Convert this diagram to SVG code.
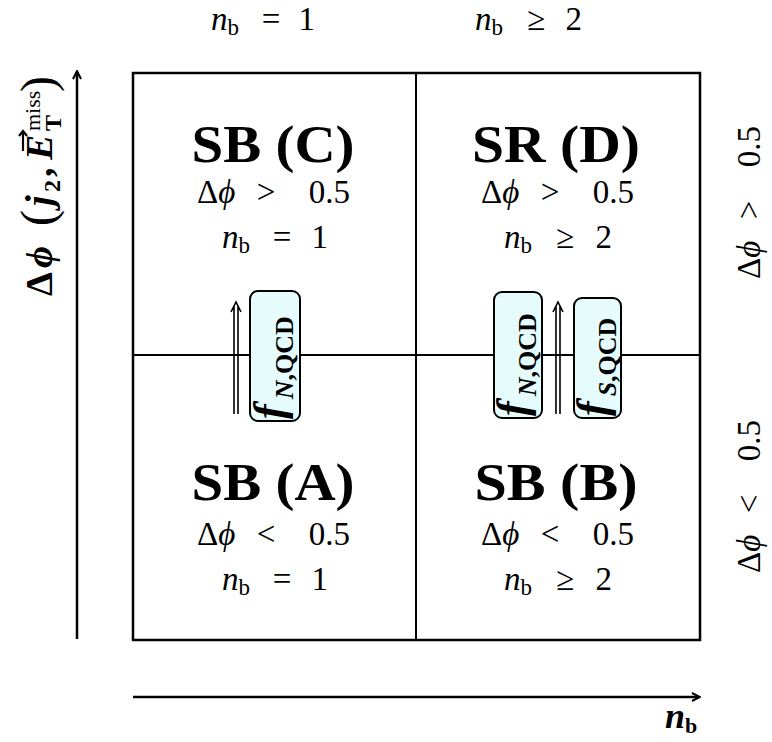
<svg xmlns="http://www.w3.org/2000/svg" width="772" height="742" viewBox="0 0 772 742">
<style>
text{font-family:"Liberation Serif","DejaVu Serif",serif;fill:#000}
.title{font-size:52px;font-weight:bold;text-anchor:middle}
.c{font-size:33px}
.m{text-anchor:middle}
.e{text-anchor:end}
.it{font-style:italic}
.sub{font-size:23px}
.grid{fill:none;stroke:#000;stroke-width:2.5}
.div{stroke:#000;stroke-width:2}
.fbox{fill:#e6fcfc;stroke:#000;stroke-width:2}
.flab{font-size:44px;font-weight:bold;font-style:italic}
.fsub{font-size:26px;font-weight:bold}
.dbl{fill:none;stroke:#000;stroke-width:1.6}
.axis{stroke:#000;stroke-width:2.5;fill:none}
.ax{font-size:38px;font-weight:bold}
</style>
<defs>
<marker id="ah" markerWidth="10" markerHeight="10" refX="8" refY="5" orient="auto" markerUnits="userSpaceOnUse">
<path d="M1,1 L9,5 L1,9" fill="none" stroke="#000" stroke-width="2"/>
</marker>
</defs>

<g id="axes">
<line class="axis" x1="77" y1="639" x2="77" y2="72" marker-end="url(#ah)"/>
<line class="axis" x1="133" y1="697" x2="699" y2="697" marker-end="url(#ah)"/>
<g transform="translate(52,296) rotate(-90)">
<text class="ax" x="0" y="0">Δ</text>
<text class="ax it" x="28" y="0">ϕ</text>
<text x="70" y="2" font-size="48">(</text>
<text class="ax it" x="90" y="0">j</text>
<text x="104" y="8" font-size="24" font-weight="bold">2</text>
<text class="ax" x="119" y="0">,</text>
<text class="ax it" x="136" y="0">E</text>
<path d="M145,-29 H165 M160,-33 L165,-29 L160,-25" fill="none" stroke="#000" stroke-width="2.2"/>
<text x="165" y="9" font-size="24" font-weight="bold">T</text>
<text x="165" y="-12" font-size="22">miss</text>
<text x="204" y="2" font-size="48">)</text>
</g>
<text x="665" y="728" font-size="36" font-weight="bold" font-style="italic">n<tspan font-size="22" font-style="normal" dy="5">b</tspan></text>
</g>

<g id="col-labels">
<g transform="translate(211,30)"><text class="c it" x="0" y="0">n<tspan class="sub" font-style="normal" dy="5">b</tspan></text><text class="c m" x="60" y="0">=</text><text class="c e" x="104" y="0">1</text></g>
<g transform="translate(475,30)"><text class="c it" x="0" y="0">n<tspan class="sub" font-style="normal" dy="5">b</tspan></text><text class="c m" x="61" y="0">≥</text><text class="c e" x="107" y="0">2</text></g>
</g>

<g id="row-labels">
<g transform="translate(760,203) rotate(-90)"><text class="c" x="-76" y="0">Δ<tspan class="it">ϕ</tspan></text><text class="c m" x="-7" y="0">&gt;</text><text class="c e" x="77" y="0">0.5</text></g>
<g transform="translate(760,497) rotate(-90)"><text class="c" x="-76" y="0">Δ<tspan class="it">ϕ</tspan></text><text class="c m" x="-7" y="0">&lt;</text><text class="c e" x="77" y="0">0.5</text></g>
</g>

<g id="grid">
<rect class="grid" x="133" y="73" width="567" height="567"/>
<line class="div" x1="416" y1="73" x2="416" y2="640"/>
<line class="div" x1="133" y1="355" x2="700" y2="355"/>
</g>

<g id="node-C">
<text class="title" x="273" y="162" textLength="163" lengthAdjust="spacingAndGlyphs">SB (C)</text>
<g transform="translate(273,203)"><text class="c" x="-76" y="0">Δ<tspan class="it">ϕ</tspan></text><text class="c m" x="-7" y="0">&gt;</text><text class="c e" x="77" y="0">0.5</text></g>
<g transform="translate(222,248)"><text class="c it" x="0" y="0">n<tspan class="sub" font-style="normal" dy="5">b</tspan></text><text class="c m" x="60" y="0">=</text><text class="c e" x="106" y="0">1</text></g>
</g>
<g id="node-D">
<text class="title" x="556" y="162" textLength="168" lengthAdjust="spacingAndGlyphs">SR (D)</text>
<g transform="translate(557,203)"><text class="c" x="-76" y="0">Δ<tspan class="it">ϕ</tspan></text><text class="c m" x="-7" y="0">&gt;</text><text class="c e" x="77" y="0">0.5</text></g>
<g transform="translate(504,248)"><text class="c it" x="0" y="0">n<tspan class="sub" font-style="normal" dy="5">b</tspan></text><text class="c m" x="61" y="0">≥</text><text class="c e" x="108" y="0">2</text></g>
</g>
<g id="node-A">
<text class="title" x="273" y="500" textLength="163" lengthAdjust="spacingAndGlyphs">SB (A)</text>
<g transform="translate(273,545)"><text class="c" x="-76" y="0">Δ<tspan class="it">ϕ</tspan></text><text class="c m" x="-7" y="0">&lt;</text><text class="c e" x="77" y="0">0.5</text></g>
<g transform="translate(222,590)"><text class="c it" x="0" y="0">n<tspan class="sub" font-style="normal" dy="5">b</tspan></text><text class="c m" x="60" y="0">=</text><text class="c e" x="106" y="0">1</text></g>
</g>
<g id="node-B">
<text class="title" x="556" y="500" textLength="163" lengthAdjust="spacingAndGlyphs">SB (B)</text>
<g transform="translate(557,545)"><text class="c" x="-76" y="0">Δ<tspan class="it">ϕ</tspan></text><text class="c m" x="-7" y="0">&lt;</text><text class="c e" x="77" y="0">0.5</text></g>
<g transform="translate(504,590)"><text class="c it" x="0" y="0">n<tspan class="sub" font-style="normal" dy="5">b</tspan></text><text class="c m" x="61" y="0">≥</text><text class="c e" x="108" y="0">2</text></g>
</g>

<g id="connectors">
<path class="dbl" d="M234,414 V306 M238,414 V306 M231,312 L236,302 L241,312"/>
<path class="dbl" d="M556,414 V306 M560,414 V306 M553,312 L558,302 L563,312"/>
</g>

<g id="node-fN-left">
<rect class="fbox" x="250" y="291" width="50" height="130" rx="8"/>
<text transform="translate(284,419) rotate(-90)"><tspan class="flab">f</tspan><tspan class="fsub" dy="9" dx="5"><tspan font-style="italic">N</tspan>,QCD</tspan></text>
</g>
<g id="node-fN-right">
<rect class="fbox" x="494" y="292" width="48" height="126" rx="8"/>
<text transform="translate(527,416) rotate(-90)"><tspan class="flab">f</tspan><tspan class="fsub" dy="9" dx="5"><tspan font-style="italic">N</tspan>,QCD</tspan></text>
</g>
<g id="node-fS">
<rect class="fbox" x="574" y="298" width="47" height="120" rx="8"/>
<text transform="translate(607,416) rotate(-90)"><tspan class="flab">f</tspan><tspan class="fsub" dy="9" dx="5"><tspan font-style="italic">S</tspan>,QCD</tspan></text>
</g>
</svg>
